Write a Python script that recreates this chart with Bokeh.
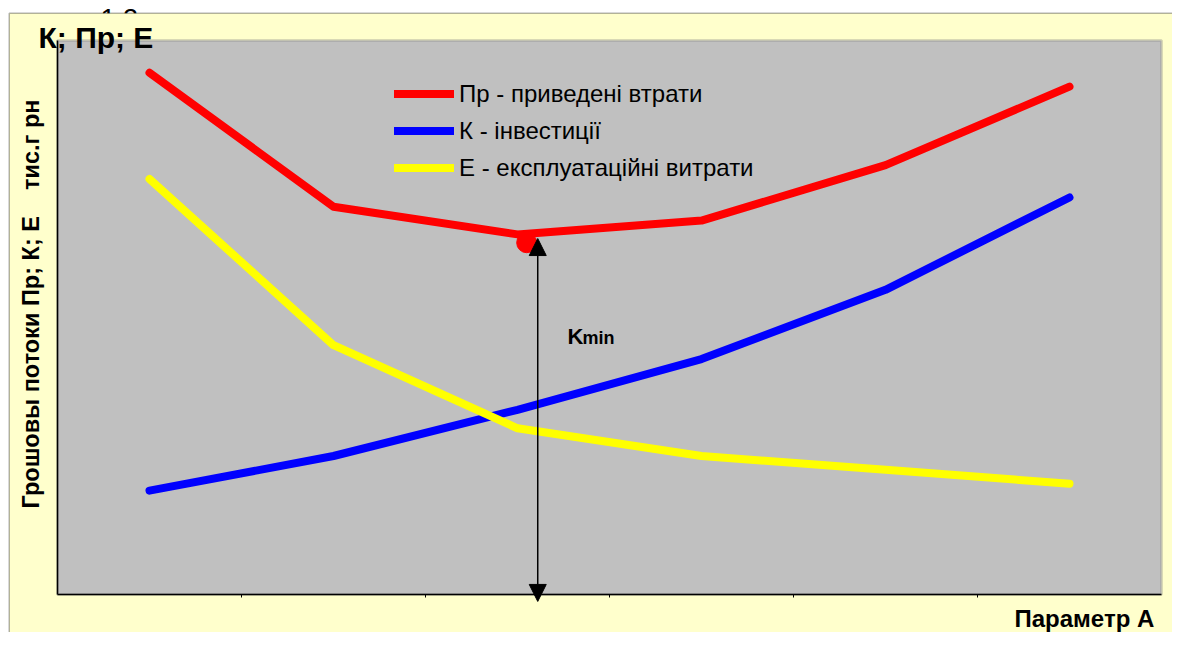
import math
from bokeh.plotting import figure
from bokeh.models import (Range1d, Label, BoxAnnotation, Arrow, NormalHead,
                          Legend, LegendItem)
from bokeh.embed import file_html
from bokeh.resources import INLINE

# ---- data ----
param_a = [1, 2, 3, 4, 5, 6]
pr_total = [1.13, 0.84, 0.78, 0.81, 0.93, 1.10]   # Пр - приведені втрати
k_invest = [0.225, 0.30, 0.40, 0.51, 0.66, 0.86]  # К - інвестиції
e_oper = [0.90, 0.54, 0.36, 0.30, 0.27, 0.24]     # Е - експлуатаційні витрати
kmin_dot_x = [3.05]
kmin_dot_y = [0.762]
kmin_arrow_x = 3.11
kmin_arrow_y = [-0.015, 0.771]
x_ticks = [1.5, 2.5, 3.5, 4.5, 5.5]               # category boundaries

series_labels = ["Пр - приведені втрати", "К - інвестиції", "Е - експлуатаційні витрати"]
y_axis_title = "Грошовы потоки Пр; К; Е \u00a0\u00a0\u00a0тис.г рн"
x_axis_title = "Параметр А"
y_top_title = "К; Пр; Е"
y_top_tick = "1.2"

# axis bounds of the plot area
X0, X1 = 0.5, 6.5
Y0, Y1 = 0.0, 1.2

# canvas geometry (pixels)
W, H = 1172, 632
PL, PT, PR, PB = 57, 40, 1161, 594   # plot area edges


def dx(cx):
    return X0 + (cx - PL) / (PR - PL) * (X1 - X0)


def dy(cy):
    return Y0 + (PB - cy) / (PB - PT) * (Y1 - Y0)


def px_h(n):  # n pixels as a y-data distance
    return n / (PB - PT) * (Y1 - Y0)


FONT = "Liberation Sans"
YELLOW_BG = "#FFFFCC"
GRAY = "#C0C0C0"


def text_label(cx, cy, text, size, bold=True, **kw):
    return Label(x=dx(cx), y=dy(cy), text=text, text_font=FONT,
                 text_font_size=size, text_font_style="bold" if bold else "normal",
                 text_color="black", text_baseline="middle",
                 text_align=kw.pop("align", "left"), **kw)


p = figure(width=W, height=H, x_range=Range1d(dx(0), dx(W)), y_range=Range1d(dy(H), dy(0)),
           output_backend="svg", toolbar_location=None, title=None,
           x_axis_type=None, y_axis_type=None, min_border=0)
p.border_fill_color = "white"
p.background_fill_color = "white"
p.outline_line_color = None
p.grid.visible = False

# partially hidden top tick label, then the chart area covering it
p.add_layout(text_label(100, 17.7, y_top_tick, "27px", bold=False, level="image"))
p.add_layout(BoxAnnotation(left=dx(8.75), right=dx(W + 40), top=dy(12.75), bottom=dy(H + 40),
                           fill_color=YELLOW_BG, fill_alpha=1, line_color="black",
                           line_width=1.5, level="underlay"))
# plot area
p.add_layout(BoxAnnotation(left=X0, right=X1, bottom=Y0, top=Y1,
                           fill_color=GRAY, fill_alpha=1, line_color="#808080",
                           line_width=3, level="underlay"))

# axis lines and tick marks
p.segment(x0=[X0, X0], y0=[Y0, Y0], x1=[X0, X1], y1=[Y1, Y0],
          line_color="black", line_width=1.5)
p.segment(x0=x_ticks, y0=[Y0] * len(x_ticks), x1=x_ticks,
          y1=[Y0 - px_h(3)] * len(x_ticks), line_color="black", line_width=1)

# ---- series ----
r_pr = p.line(param_a, pr_total, line_color="#FF0000", line_width=8,
              line_cap="round", line_join="round")
r_k = p.line(param_a, k_invest, line_color="#0000FF", line_width=8,
             line_cap="round", line_join="round")
r_e = p.line(param_a, e_oper, line_color="#FFFF00", line_width=8,
             line_cap="round", line_join="round")
p.scatter(kmin_dot_x, kmin_dot_y, size=20, fill_color="#FF0000", line_color="#FF0000")

p.add_layout(Arrow(start=NormalHead(size=17, fill_color="black", line_color="black"),
                   end=NormalHead(size=17, fill_color="black", line_color="black"),
                   x_start=kmin_arrow_x, y_start=kmin_arrow_y[0],
                   x_end=kmin_arrow_x, y_end=kmin_arrow_y[1],
                   line_color="black", line_width=1.5))

legend = Legend(items=[LegendItem(label=series_labels[0], renderers=[r_pr]),
                       LegendItem(label=series_labels[1], renderers=[r_k]),
                       LegendItem(label=series_labels[2], renderers=[r_e])],
                location=(394, H - 186), orientation="vertical",
                glyph_width=60, glyph_height=37, label_height=37,
                label_standoff=5, spacing=0, padding=0, margin=0,
                border_line_color=None, background_fill_alpha=0,
                label_text_font=FONT, label_text_font_size="24px",
                label_text_color="black")
p.add_layout(legend, "center")

# ---- texts ----
p.add_layout(text_label(38, 37, y_top_title, "30px"))
p.add_layout(text_label(30, 303.5, y_axis_title, "23.5px", align="center", angle=math.pi / 2))
p.add_layout(text_label(1014, 617.5, x_axis_title, "24px"))
p.add_layout(text_label(567, 336.4, "K", "22px"))
p.add_layout(text_label(582, 337.8, "min", "18px"))

open("out.html", "w").write(file_html(p, INLINE))
